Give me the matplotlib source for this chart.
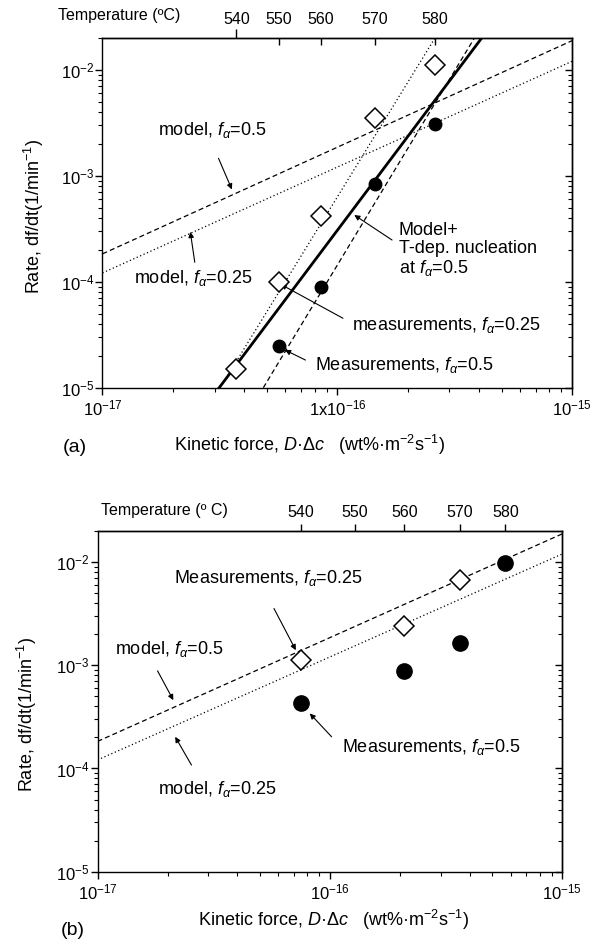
import numpy as np
import matplotlib
matplotlib.use("Agg")
import matplotlib.pyplot as plt
import matplotlib.lines as mlines
from matplotlib.ticker import FixedLocator, FixedFormatter, LogLocator, NullFormatter, NullLocator

plt.rcParams["font.family"] = ["Liberation Sans", "DejaVu Sans"]
plt.rcParams["mathtext.fontset"] = "custom"
plt.rcParams["mathtext.rm"] = "Liberation Sans"
plt.rcParams["mathtext.it"] = "Liberation Sans:italic"
plt.rcParams["mathtext.bf"] = "Liberation Sans:bold"
plt.rcParams["axes.linewidth"] = 1.0

# annealing temperatures and the kinetic force D*dc belonging to each
temps = [540, 550, 560, 570, 580]
force_a = [3.72e-17, 5.64e-17, 8.53e-17, 1.44e-16, 2.61e-16]
force_b = [7.48e-17, 1.28e-16, 2.09e-16, 3.61e-16, 5.69e-16]

# (a) measured rates
temps_a_025 = [540, 550, 560, 570, 580]
rate_a_025 = [1.49e-5, 1.0e-4, 4.14e-4, 3.5e-3, 1.11e-2]
temps_a_05 = [550, 560, 570, 580]
rate_a_05 = [2.49e-5, 9.0e-5, 8.35e-4, 3.07e-3]

# (b) measured rates
temps_b_025 = [540, 560, 570]
rate_b_025 = [1.13e-3, 2.42e-3, 6.76e-3]
temps_b_05 = [540, 560, 570, 580]
rate_b_05 = [4.27e-4, 8.75e-4, 1.66e-3, 9.8e-3]

# model lines (constant nucleation)
model_force = [1e-17, 1e-15]
model_05 = [1.83e-4, 1.88e-2]
model_025 = [1.21e-4, 1.2e-2]

# (a) steep lines: model with T-dependent nucleation and fits to the data
tdep_force = [3.14e-17, 4.14e-16]
tdep_rate = [1e-5, 2.02e-2]
fit05_force = [4.84e-17, 3.85e-16]
fit05_rate = [1e-5, 2.02e-2]
fit025_force = [3.17e-17, 2.63e-16]
fit025_rate = [1e-5, 2.06e-2]

FA = "$f_{\\alpha}$"


def at(temp_list, force):
    lookup = dict(zip(temps, force))
    return [lookup[t] for t in temp_list]


def setup(ax, force, xlabels, top_dir):
    ax.set_xscale("log")
    ax.set_yscale("log")
    ax.set_xlim(1e-17, 1e-15)
    ax.set_ylim(1e-5, 2e-2)
    ax.xaxis.set_major_locator(FixedLocator([1e-17, 1e-16, 1e-15]))
    ax.xaxis.set_major_formatter(FixedFormatter(xlabels))
    ax.xaxis.set_minor_locator(LogLocator(base=10, subs=np.arange(2, 10), numticks=20))
    ax.xaxis.set_minor_formatter(NullFormatter())
    ax.yaxis.set_major_locator(FixedLocator([1e-5, 1e-4, 1e-3, 1e-2]))
    ax.yaxis.set_major_formatter(FixedFormatter(["$10^{-5}$", "$10^{-4}$", "$10^{-3}$", "$10^{-2}$"]))
    ax.yaxis.set_minor_locator(LogLocator(base=10, subs=np.arange(2, 10), numticks=20))
    ax.yaxis.set_minor_formatter(NullFormatter())
    ax.tick_params(which="both", direction="out", top=False, right=False, labelsize=12)
    ax.tick_params(which="major", length=5, width=1.0)
    ax.tick_params(which="minor", length=3, width=0.8)
    ax.tick_params(axis="x", pad=3)
    ax.tick_params(axis="y", pad=1)

    right = ax.secondary_yaxis("right")
    right.yaxis.set_major_locator(FixedLocator([1e-5, 1e-4, 1e-3, 1e-2]))
    right.yaxis.set_minor_locator(LogLocator(base=10, subs=np.arange(2, 10), numticks=20))
    right.yaxis.set_major_formatter(NullFormatter())
    right.yaxis.set_minor_formatter(NullFormatter())
    right.tick_params(which="both", direction="in")
    right.tick_params(which="major", length=5, width=1.0)
    right.tick_params(which="minor", length=3, width=0.8)

    top = ax.secondary_xaxis("top")
    top.set_ticks(force, labels=[str(t) for t in temps])
    top.xaxis.set_minor_locator(NullLocator())
    top.tick_params(direction=top_dir, length=5, width=1.0, labelsize=11.5,
                    pad=8 if top_dir == "in" else 3)
    return top


def arrows(ax, items):
    for (sx, sy), (tx, ty) in items:
        ax.annotate("", xy=(10 ** tx, 10 ** ty), xytext=(10 ** sx, 10 ** sy),
                    arrowprops=dict(arrowstyle="-|>", color="black", lw=0.8,
                                    mutation_scale=8, shrinkA=0, shrinkB=0))


def labels(ax, items):
    for (lx, ly), s in items:
        ax.text(10 ** lx, 10 ** ly, s, ha="left", va="center", fontsize=13,
                linespacing=1.05)


fig = plt.figure(figsize=(5.91, 9.39), dpi=100)

# ---- panel (a)
ax = fig.add_axes([0.1734, 0.5871, 0.7948, 0.3727])
top_a = setup(ax, force_a, ["$10^{-17}$", "1x$10^{-16}$", "$10^{-15}$"], "in")
# the 540 tick sticks out above the frame
tick540 = top_a.xaxis.get_major_ticks()[0]
tick540.tick2line.set_marker(mlines.TICKUP)
tick540.tick2line.set_markersize(6.5)

ax.plot(model_force, model_05, color="black", lw=0.9, dashes=(4, 2.5))
ax.plot(model_force, model_025, color="black", lw=0.9, dashes=(1, 2))
ax.plot(fit025_force, fit025_rate, color="black", lw=0.9, dashes=(1, 2))
ax.plot(fit05_force, fit05_rate, color="black", lw=0.9, dashes=(4, 2.5))
ax.plot(tdep_force, tdep_rate, color="black", lw=2.0)
ax.plot(at(temps_a_025, force_a), rate_a_025, "D", ms=10.5, mfc="white",
        mec="black", mew=1.1, zorder=5)
ax.plot(at(temps_a_05, force_a), rate_a_05, "o", ms=9, color="black", zorder=5)

labels(ax, [
    ((-16.762, -2.569), "model, " + FA + "=0.5"),
    ((-16.867, -3.968), "model, " + FA + "=0.25"),
    ((-15.738, -3.701), "Model+\nT-dep. nucleation\nat " + FA + "=0.5"),
    ((-15.936, -4.408), "measurements, " + FA + "=0.25"),
    ((-16.096, -4.786), "Measurements, " + FA + "=0.5"),
])
arrows(ax, [
    ((-16.506, -2.836), (-16.449, -3.13)),
    ((-16.607, -3.817), (-16.626, -3.53)),
    ((-15.767, -3.607), (-15.928, -3.371)),
    ((-15.976, -4.345), (-16.241, -4.025)),
    ((-16.136, -4.739), (-16.223, -4.644)),
])
ax.set_xlabel("Kinetic force, $D$·Δ$c$   (wt%·m$^{-2}$s$^{-1}$)", fontsize=13, va="center")
ax.xaxis.set_label_coords(0.4407, -0.1637)
ax.set_ylabel("Rate, df/dt(1/min$^{-1}$)", fontsize=13, va="center", ha="center")
ax.yaxis.set_label_coords(-0.1458, 0.4906)
ax.text(-0.0939, 1.0649, "Temperature (ºC)", transform=ax.transAxes,
        ha="left", va="center", fontsize=11.5)
ax.text(-0.0594, -0.1700, "(a)", transform=ax.transAxes, ha="center",
        va="center", fontsize=14)

# ---- panel (b)
bx = fig.add_axes([0.1651, 0.0717, 0.7865, 0.3628])
setup(bx, force_b, ["$10^{-17}$", "$10^{-16}$", "$10^{-15}$"], "out")
bx.plot(model_force, model_05, color="black", lw=0.9, dashes=(4, 2.5))
bx.plot(model_force, model_025, color="black", lw=0.9, dashes=(1, 2))
bx.plot(at(temps_b_025, force_b), rate_b_025, "D", ms=10.5, mfc="white",
        mec="black", mew=1.1, zorder=5)
bx.plot(at(temps_b_05, force_b), rate_b_05, "o", ms=11, color="black", zorder=5)

labels(bx, [
    ((-16.671, -2.150), "Measurements, " + FA + "=0.25"),
    ((-16.925, -2.847), "model, " + FA + "=0.5"),
    ((-15.947, -3.790), "Measurements, " + FA + "=0.5"),
    ((-16.742, -4.202), "model, " + FA + "=0.25"),
])
arrows(bx, [
    ((-16.241, -2.450), (-16.147, -2.854)),
    ((-16.742, -3.054), (-16.674, -3.338)),
    ((-15.993, -3.693), (-16.087, -3.467)),
    ((-16.596, -3.967), (-16.666, -3.693)),
])
bx.set_xlabel("Kinetic force, $D$·Δ$c$   (wt%·m$^{-2}$s$^{-1}$)", fontsize=13, va="center")
bx.xaxis.set_label_coords(0.5077, -0.1430)
bx.set_ylabel("Rate, df/dt(1/min$^{-1}$)", fontsize=13, va="center", ha="center")
bx.yaxis.set_label_coords(-0.1519, 0.46)
bx.text(0.0073, 1.0616, "Temperature (º C)", transform=bx.transAxes,
        ha="left", va="center", fontsize=11.5)
bx.text(-0.0529, -0.1721, "(b)", transform=bx.transAxes, ha="center",
        va="center", fontsize=14)

fig.savefig("out.png", dpi=100)
